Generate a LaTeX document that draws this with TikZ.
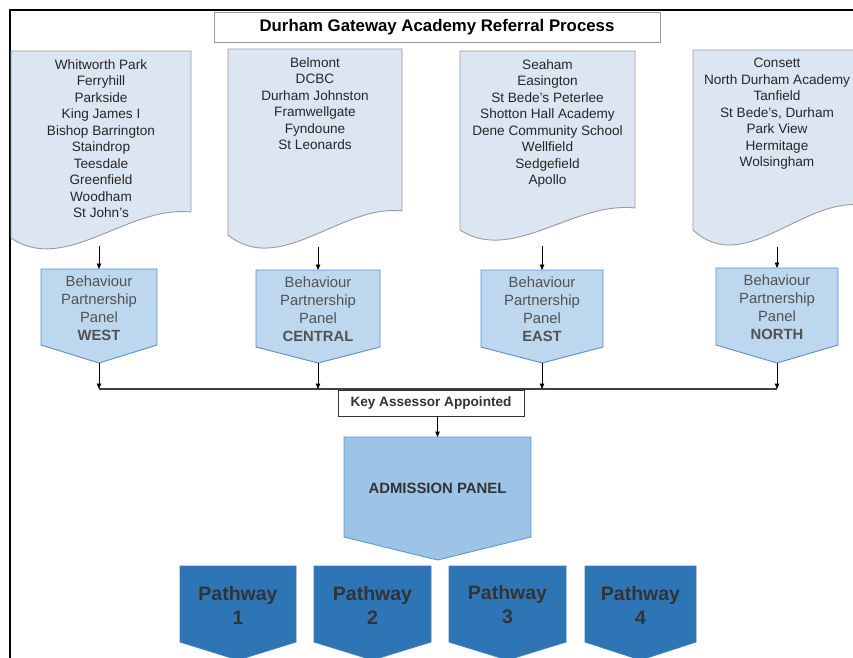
\documentclass[tikz,border=0pt]{standalone}
\usepackage{fontspec}
\setmainfont{Liberation Sans}
\usetikzlibrary{arrows.meta}
\definecolor{docfill}{HTML}{DCE6F2}
\definecolor{docdraw}{HTML}{9A9A9A}
\definecolor{panfill}{HTML}{BDD7EE}
\definecolor{pandraw}{HTML}{5B8FCB}
\definecolor{admfill}{HTML}{9DC3E6}
\definecolor{admdraw}{HTML}{5B9BD5}
\definecolor{pathfill}{HTML}{2E75B6}
\definecolor{pathdraw}{HTML}{3A80BF}
\definecolor{txt}{HTML}{262626}
\definecolor{txtb}{HTML}{333333}
\newcommand\gwdoc[6]{%
  \pgfmathsetmacro\gww{#2-#1}%
  \draw[docbox] (#1,#3) -- (#2,#3) -- (#2,#5)
    .. controls ({#2-0.35*\gww},{#5-7}) and ({#1+0.3*\gww},#6) .. (#1,#4) -- cycle;}
\newcommand\gwpent[7]{%
  \draw[#2] (#3,#5) -- (#4,#5) -- (#4,#6) -- ({(#3+#4)/2},#7) -- (#3,#6) -- cycle;
  \coordinate (#1-top) at ({(#3+#4)/2},#5);
  \coordinate (#1-tip) at ({(#3+#4)/2},#7);}
\begin{document}
\begin{tikzpicture}[x=1pt,y=-1pt,
  docbox/.style={fill=docfill,draw=docdraw,line width=0.9pt},
  panbox/.style={fill=panfill,draw=pandraw,line width=0.9pt},
  admbox/.style={fill=admfill,draw=admdraw,line width=0.9pt},
  pathbox/.style={fill=pathfill,draw=pathdraw,line width=0.8pt},
  doctext/.style={anchor=north,align=center,inner sep=0pt,text=txt,font=\fontsize{13.6}{16.5}\selectfont},
  pantext/.style={anchor=north,align=center,inner sep=0pt,text=txtb!85,font=\fontsize{14.8}{18}\selectfont},
  pathtext/.style={align=center,inner sep=0pt,text=txtb,font=\bfseries\fontsize{19.5}{24}\selectfont},
  arr/.style={draw=black,line width=0.8pt,-{Triangle[length=5.5pt,width=4.5pt]}},
  bus/.style={draw=black!75,line width=1.1pt}]
\useasboundingbox (0,0) rectangle (853,657);
\clip (0,0) rectangle (853,657);
\fill[white] (0,0) rectangle (853,657);
% frame
\draw[black,line width=2pt] (10,700) -- (10,10) -- (900,10);
% title
\node[draw=docdraw,fill=white,line width=0.9pt,minimum width=446pt,minimum height=30pt,inner sep=0pt,
  font=\bfseries\fontsize{16.8}{20}\selectfont] (title) at (437,27) {Durham Gateway Academy Referral Process};
% documents
\gwdoc{11}{191}{51}{238}{212}{275}
\gwdoc{228}{402}{49}{235}{211}{277}
\gwdoc{460}{635}{51}{230}{208}{264}
\gwdoc{693}{861}{50}{230}{205}{277}
\node[doctext] (d1) at (101,59) {Whitworth Park\\Ferryhill\\Parkside\\King James I\\Bishop Barrington\\Staindrop\\Teesdale\\Greenfield\\Woodham\\St John's};
\node[doctext] (d2) at (315,57) {Belmont\\DCBC\\Durham Johnston\\Framwellgate\\Fyndoune\\St Leonards};
\node[doctext] (d3) at (547.5,59) {Seaham\\Easington\\St Bede's Peterlee\\Shotton Hall Academy\\Dene Community School\\Wellfield\\Sedgefield\\Apollo};
\node[doctext] (d4) at (777,58) {Consett\\North Durham Academy\\Tanfield\\St Bede's, Durham\\Park View\\Hermitage\\Wolsingham};
% panels
\gwpent{p1}{panbox}{41}{157}{269}{345}{363}
\gwpent{p2}{panbox}{256}{380}{270}{347}{363}
\gwpent{p3}{panbox}{481}{603}{270}{347}{363}
\gwpent{p4}{panbox}{716}{838}{268}{345}{363}
\node[pantext] (t1) at (99,275.5) {Behaviour\\Partnership\\Panel\\\textbf{WEST}};
\node[pantext] (t2) at (318,276.5) {Behaviour\\Partnership\\Panel\\\textbf{CENTRAL}};
\node[pantext] (t3) at (542,276.5) {Behaviour\\Partnership\\Panel\\\textbf{EAST}};
\node[pantext] (t4) at (777,274.5) {Behaviour\\Partnership\\Panel\\\textbf{NORTH}};
% doc -> panel arrows
\coordinate (d1b) at (99,246);
\coordinate (d2b) at (318,247);
\coordinate (d3b) at (542,246);
\coordinate (d4b) at (777,247);
\draw[arr] (d1b) -- (p1-top);
\draw[arr] (d2b) -- (p2-top);
\draw[arr] (d3b) -- (p3-top);
\draw[arr] (d4b) -- (p4-top);
% bus
\coordinate (b1) at (99,389);
\coordinate (b2) at (318,389);
\coordinate (b3) at (542,389);
\coordinate (b4) at (777,389);
\draw[bus] (b1) -- (b4);
\draw[arr] (p1-tip) -- (b1);
\draw[arr] (p2-tip) -- (b2);
\draw[arr] (p3-tip) -- (b3);
\draw[arr] (p4-tip) -- (b4);
% key assessor
\node[draw=black!80,fill=white,line width=0.9pt,minimum width=186pt,minimum height=26pt,inner sep=0pt,
  text=txtb,font=\bfseries\fontsize{13.6}{16}\selectfont] (key) at (431,403) {Key Assessor Appointed};
% admission
\gwpent{adm}{admbox}{344}{531}{437}{537}{560}
\node[pathtext,font=\bfseries\fontsize{14.9}{18}\selectfont] (admt) at (437.5,488) {ADMISSION PANEL};
\draw[arr] (key.south -| adm-top) -- (adm-top);
% pathways
\gwpent{w1}{pathbox}{180}{296}{566}{642}{660}
\gwpent{w2}{pathbox}{314}{431}{566}{642}{660}
\gwpent{w3}{pathbox}{449}{566}{566}{642}{660}
\gwpent{w4}{pathbox}{585}{696}{566}{642}{660}
\node[pathtext] (pw1) at (238,605) {Pathway\\1};
\node[pathtext] (pw2) at (372.5,605) {Pathway\\2};
\node[pathtext] (pw3) at (507.5,605) {Pathway\\3};
\node[pathtext] (pw4) at (640.5,605) {Pathway\\4};
\end{tikzpicture}
\end{document}
